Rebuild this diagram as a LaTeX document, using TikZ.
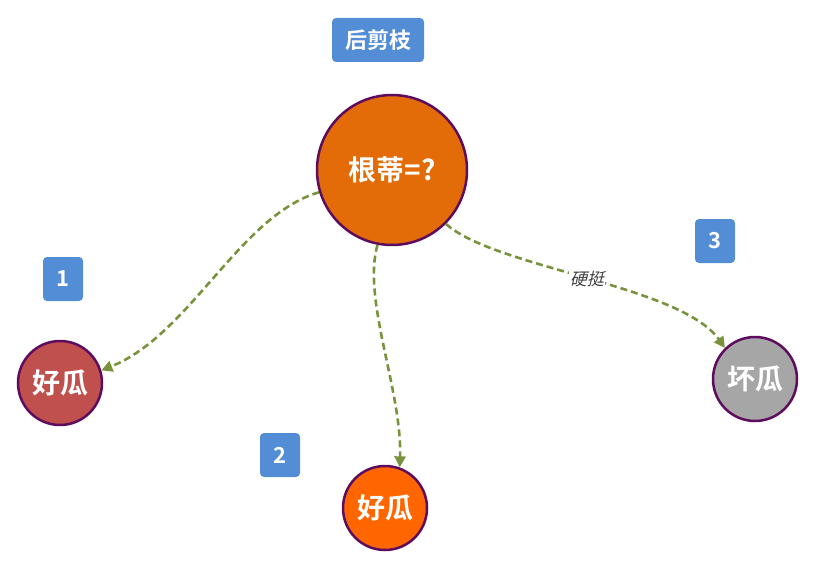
\documentclass[tikz,border=0pt]{standalone}
\usepackage{fontspec}
\newfontfamily\cjk{Noto Sans CJK SC}[BoldFont={Noto Sans CJK SC Bold}]
\newfontfamily\cjkit{Noto Sans CJK SC}[FakeSlant=0.25]
\usetikzlibrary{arrows.meta}
\definecolor{tagblue}{HTML}{538DD5}
\definecolor{rootc}{HTML}{E36C09}
\definecolor{goodA}{HTML}{C0504D}
\definecolor{goodB}{HTML}{FF6600}
\definecolor{badc}{HTML}{A6A6A6}
\definecolor{rim}{HTML}{5E0C5E}
\definecolor{edgec}{HTML}{77933C}
\tikzset{
  tag/.style={fill=tagblue, rounded corners=4pt, text=white, font=\cjk\bfseries\fontsize{22}{22}\selectfont, inner sep=0pt, minimum height=44pt},
  dnode/.style={circle, draw=rim, line width=2.5pt, text=white, font=\cjk\bfseries\fontsize{28}{28}\selectfont, inner sep=0pt},
  link/.style={draw=edgec, line width=2.6pt, dash pattern=on 7pt off 4pt, -{Triangle[length=11pt,width=11pt]}},
  elabel/.style={fill=white, text=black!75, font=\cjkit\fontsize{17}{17}\selectfont, inner sep=1pt}
}
\begin{document}
\begin{tikzpicture}[x=1pt,y=-1pt]
\useasboundingbox (0,0) rectangle (814,567);
\node[tag, minimum width=92pt] (t0) at (378,40) {后剪枝};
\node[tag, minimum width=40pt] (t1) at (63,279) {1};
\node[tag, minimum width=40pt] (t2) at (280,455) {2};
\node[tag, minimum width=40pt] (t3) at (715,241) {3};
\node[dnode, fill=rootc, minimum size=150pt] (root) at (392,170) {根蒂=?};
\node[dnode, fill=goodA, minimum size=84pt] (l1) at (60,383) {好瓜};
\node[dnode, fill=goodB, minimum size=84pt] (l2) at (385,508) {好瓜};
\node[dnode, fill=badc, minimum size=84pt] (l3) at (755,379) {坏瓜};
\draw[link] (root.197) .. controls (240,215) and (190,335) .. (l1.17);
\draw[link] (root.-101) .. controls (362,300) and (402,390) .. (l2.70);
\draw[link] (root.-45) .. controls (495,268) and (680,285) .. node[elabel, pos=0.5] (e3) {硬挺} (l3.134);
\end{tikzpicture}
\end{document}
